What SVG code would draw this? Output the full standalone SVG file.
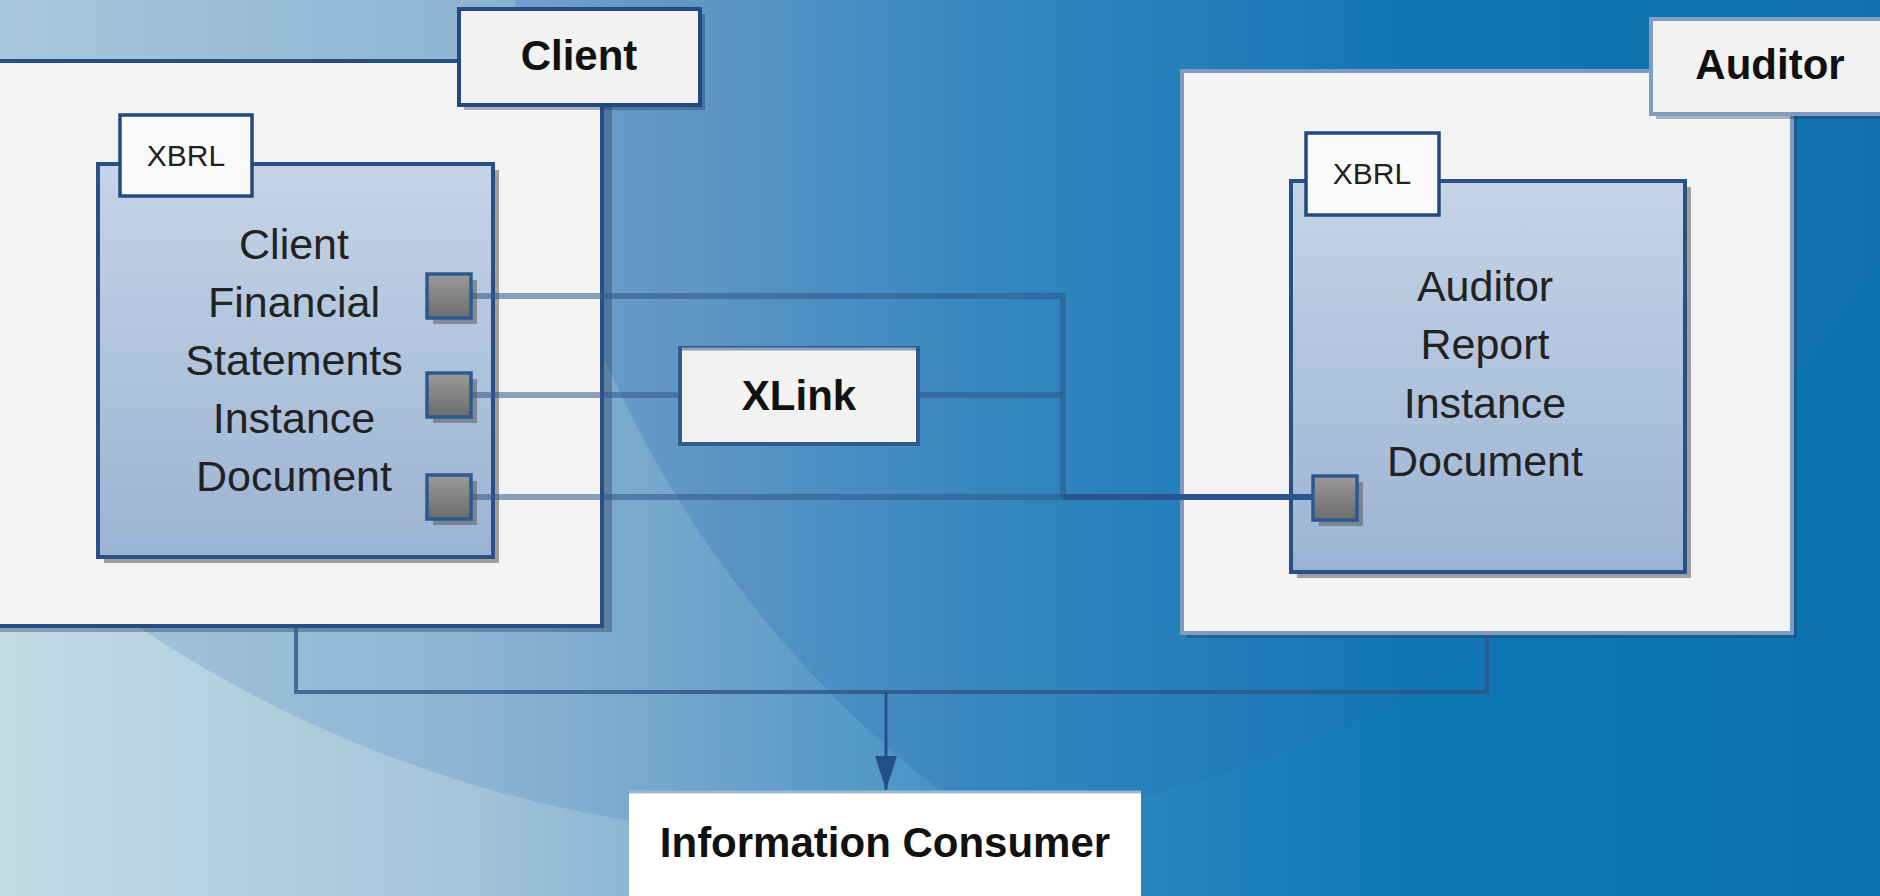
<svg xmlns="http://www.w3.org/2000/svg" width="1880" height="896" viewBox="0 0 1880 896">
  <defs>
    <linearGradient id="bg" x1="0" y1="0" x2="1880" y2="0" gradientUnits="userSpaceOnUse">
      <stop offset="0" stop-color="#c4dbe5"/>
      <stop offset="0.25" stop-color="#a4c4da"/>
      <stop offset="0.372" stop-color="#80b0d0"/>
      <stop offset="0.532" stop-color="#3f98c8"/>
      <stop offset="0.612" stop-color="#2c8fc2"/>
      <stop offset="0.745" stop-color="#0d7fb8"/>
      <stop offset="1" stop-color="#0a78b0"/>
    </linearGradient>
    <linearGradient id="docFill" x1="0" y1="0" x2="0" y2="1">
      <stop offset="0" stop-color="#c5d4e6"/>
      <stop offset="1" stop-color="#9bb3d3"/>
    </linearGradient>
    <linearGradient id="portFill" x1="0" y1="0" x2="0" y2="1">
      <stop offset="0" stop-color="#9a9a9a"/>
      <stop offset="1" stop-color="#6c6c6c"/>
    </linearGradient>
    <marker id="arrow" viewBox="0 0 34 22" refX="34" refY="11" markerWidth="34" markerHeight="22" markerUnits="userSpaceOnUse" orient="auto">
      <path d="M0,0 L34,11 L0,22 z" fill="#24508a"/>
    </marker>
    <style>
      .shadow { fill: #1e3550; opacity: 0.35; }
      .dshadow { fill: #5a5a5a; opacity: 0.55; }
      .outer { fill: #f3f3f3; stroke-width: 4; }
      .label { fill: #f2f2f2; stroke-width: 4; }
      .doc { fill: url(#docFill); stroke: #2a4f86; stroke-width: 4; }
      .tab { fill: #fafafa; stroke: #234a80; stroke-width: 3.5; }
      .port { fill: url(#portFill); stroke: #2d5a8e; stroke-width: 3.5; }
      .bold { font-family: "Liberation Sans", Arial, sans-serif; font-weight: bold; font-size: 42px; fill: #111; text-anchor: middle; }
      .body { font-family: "Liberation Sans", Arial, sans-serif; font-size: 43px; fill: #222; text-anchor: middle; }
      .small { font-family: "Liberation Sans", Arial, sans-serif; font-size: 30px; fill: #222; text-anchor: middle; }
      .link { fill: none; stroke: #2f5888; stroke-opacity: 0.55; stroke-width: 6; }
      .flow { fill: none; stroke: #2f5585; stroke-opacity: 0.8; stroke-width: 4; }
    </style>
  </defs>

  <!-- background -->
  <rect x="0" y="0" width="1880" height="896" fill="url(#bg)"/>
  <circle cx="830" cy="-407" r="1244" fill="#2f6fb8" opacity="0.18"/>
  <circle cx="1622" cy="-85" r="1110" fill="#1a5fa8" opacity="0.2"/>

  <!-- Client container -->
  <g id="client">
    <rect class="shadow" x="-5" y="66" width="617" height="566"/>
    <rect class="outer" x="-10" y="61" width="612" height="565" stroke="#284f85"/>
    <rect class="shadow" x="464" y="14" width="241" height="96"/>
    <rect class="label" x="459" y="9" width="241" height="96" stroke="#234a80"/>
    <text class="bold" x="579" y="70">Client</text>
  </g>

  <!-- Auditor container -->
  <g id="auditor">
    <rect class="shadow" x="1187" y="76" width="610" height="562"/>
    <rect class="outer" x="1182" y="71" width="610" height="562" stroke="#7f9bbf"/>
    <rect class="shadow" x="1656" y="24" width="240" height="95"/>
    <rect class="label" x="1651" y="19" width="240" height="95" stroke="#809cbf"/>
    <text class="bold" x="1770" y="79">Auditor</text>
  </g>

  <!-- Client document -->
  <g id="client-doc">
    <rect class="dshadow" x="104" y="170" width="395" height="393"/>
    <rect class="doc" x="98" y="164" width="395" height="393"/>
    <rect class="tab" x="120" y="115" width="132" height="81"/>
    <text class="small" x="186" y="166">XBRL</text>
    <text class="body" x="294" y="259">Client</text>
    <text class="body" x="294" y="317">Financial</text>
    <text class="body" x="294" y="375">Statements</text>
    <text class="body" x="294" y="433">Instance</text>
    <text class="body" x="294" y="491">Document</text>
  </g>

  <!-- Auditor document -->
  <g id="auditor-doc">
    <rect class="dshadow" x="1297" y="187" width="394" height="391"/>
    <rect class="doc" x="1291" y="181" width="394" height="391"/>
    <rect class="tab" x="1306" y="133" width="133" height="82"/>
    <text class="small" x="1372" y="184">XBRL</text>
    <text class="body" x="1485" y="301">Auditor</text>
    <text class="body" x="1485" y="359">Report</text>
    <text class="body" x="1485" y="418">Instance</text>
    <text class="body" x="1485" y="476">Document</text>
  </g>

  <!-- Information Consumer -->
  <g id="consumer">
    <rect x="629" y="791" width="512" height="110" fill="#ffffff"/>
    <line x1="629" y1="792" x2="1141" y2="792" stroke="#9db8d2" stroke-width="3"/>
    <text class="bold" x="885" y="857">Information Consumer</text>
  </g>

  <!-- XLink -->
  <g id="xlink">
    <rect class="label" x="680" y="348" width="238" height="96" stroke="#2f5a8e"/>
    <line x1="682" y1="349" x2="916" y2="349" stroke="#8aa2c2" stroke-width="3"/>
    <text class="bold" x="799" y="410">XLink</text>
  </g>

  <!-- Connectors -->
  <g id="connectors">
    <polyline class="link" points="471,296 1063,296 1063,497"/>
    <polyline class="link" points="471,395 680,395"/>
    <polyline class="link" points="918,395 1063,395"/>
    <polyline class="link" points="471,497 1063,497"/>
    <line x1="1063" y1="497" x2="1313" y2="497" stroke="#2a5590" stroke-width="6"/>
    <polyline class="flow" points="296,628 296,692 1487,692 1487,635"/>
    <line x1="886" y1="692" x2="886" y2="790" stroke="#24508a" stroke-width="3" marker-end="url(#arrow)"/>
  </g>

  <!-- Ports -->
  <g id="port-client-1">
    <rect class="dshadow" x="433" y="280" width="44" height="44"/>
    <rect class="port" x="427" y="274" width="44" height="44"/>
  </g>
  <g id="port-client-2">
    <rect class="dshadow" x="433" y="379" width="44" height="44"/>
    <rect class="port" x="427" y="373" width="44" height="44"/>
  </g>
  <g id="port-client-3">
    <rect class="dshadow" x="433" y="481" width="44" height="44"/>
    <rect class="port" x="427" y="475" width="44" height="44"/>
  </g>
  <g id="port-auditor">
    <rect class="dshadow" x="1319" y="482" width="44" height="44"/>
    <rect class="port" x="1313" y="476" width="44" height="44"/>
  </g>
</svg>
